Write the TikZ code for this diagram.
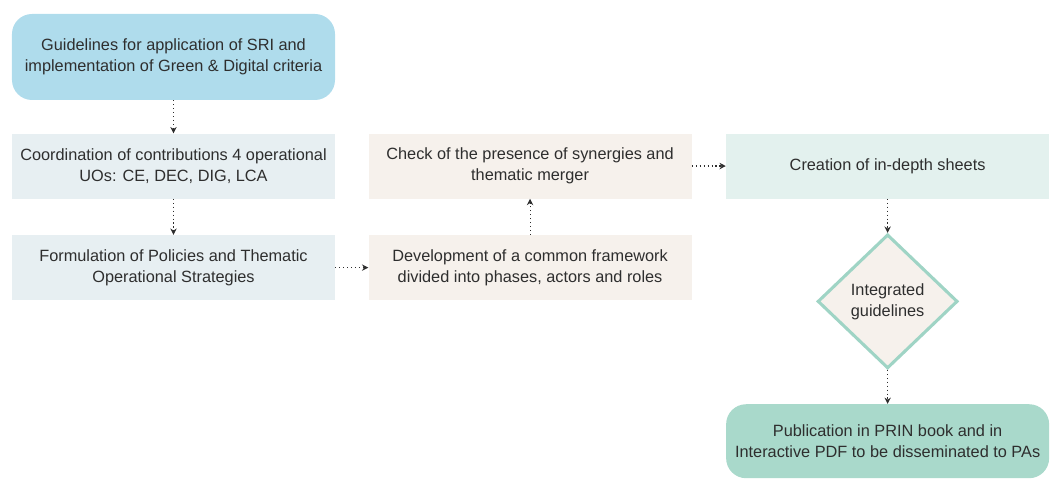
\documentclass[tikz,border=0pt]{standalone}
\usepackage{fontspec}
\setmainfont{Liberation Sans}
\usetikzlibrary{positioning,shapes.geometric,arrows.meta}

\definecolor{skyfill}{HTML}{AFDCEC}
\definecolor{greyfill}{HTML}{E7EFF2}
\definecolor{sandfill}{HTML}{F6F1EC}
\definecolor{mintfill}{HTML}{E3F1EE}
\definecolor{mintdark}{HTML}{A9D9CB}
\definecolor{mintline}{HTML}{9FD4C5}
\definecolor{inkgrey}{HTML}{2E2E2E}

\tikzset{
  stepbox/.style={minimum width=8.075cm,minimum height=1.625cm,align=center,
    text=inkgrey,font=\fontsize{11.6}{15}\selectfont},
  roundbox/.style={stepbox,rounded corners=0.5cm},
  flow/.style={dotted,line width=0.8pt,inkgrey,-{Stealth[length=4.5pt,width=4.5pt]}}
}

\begin{document}
\begin{tikzpicture}[node distance=0.85cm]
\useasboundingbox (-4.3375,1.425) rectangle (21.9875,-10.625);
\node[roundbox,fill=skyfill,minimum height=2.15cm] (guide) at (0,0) {Guidelines for application of SRI and\\implementation of Green \& Digital criteria};
\node[stepbox,fill=greyfill] (coord) [below=0.825cm of guide] {Coordination of contributions 4 operational\\UOs: CE, DEC, DIG, LCA};
\node[stepbox,fill=greyfill] (policy) [below=0.9cm of coord] {Formulation of Policies and Thematic\\Operational Strategies};
\node[stepbox,fill=sandfill] (frame) [right=0.825cm of policy] {Development of a common framework\\divided into phases, actors and roles};
\node[stepbox,fill=sandfill] (check) [above=0.9cm of frame] {Check of the presence of synergies and\\thematic merger};
\node[stepbox,fill=mintfill] (sheets) [right=0.85cm of check] {Creation of in-depth sheets};
\node[diamond,draw=mintline,line width=2.2pt,fill=sandfill,minimum width=3.5cm,minimum height=3.35cm,
  inner sep=0pt,align=center,text=inkgrey,font=\fontsize{11.6}{15}\selectfont] (integ) [below=0.85cm of sheets] {Integrated\\guidelines};
\node[roundbox,fill=mintdark,minimum height=1.85cm] (publ) [below=0.85cm of integ] {Publication in PRIN book and in\\Interactive PDF to be disseminated to PAs};
\draw[flow](guide)to(coord);
\draw[flow](coord)to(policy);
\draw[flow](policy)to(frame);
\draw[flow](frame)to(check);
\draw[flow](check)to(sheets);
\draw[flow](sheets)to(integ);
\draw[flow](integ)to(publ);
\end{tikzpicture}
\end{document}
